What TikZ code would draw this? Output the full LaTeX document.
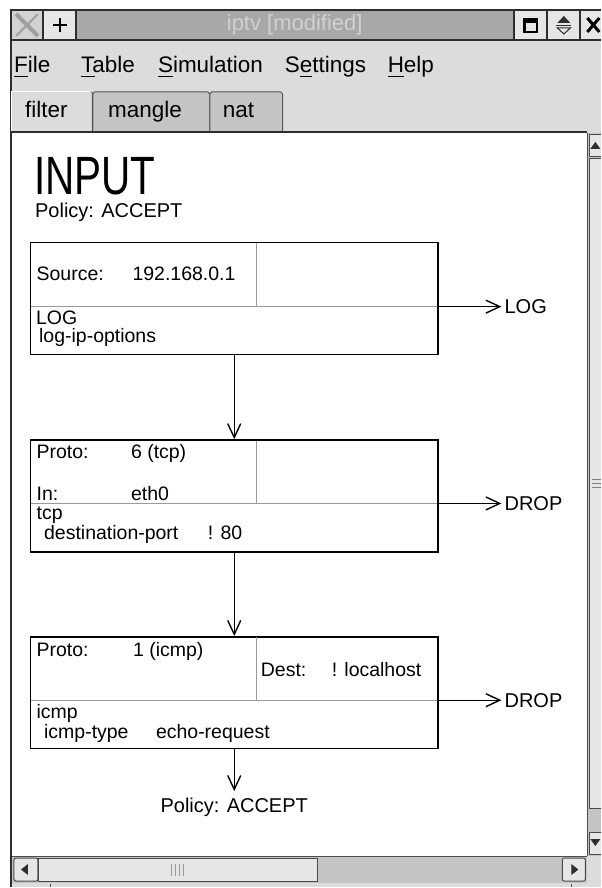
\documentclass[tikz,border=0pt]{standalone}
\usepackage{fontspec}
\setmainfont{Liberation Sans}
\usetikzlibrary{arrows.meta}

\definecolor{winbg}{HTML}{DCDCDC}
\definecolor{titlebg}{HTML}{A8A8A8}
\definecolor{tabbg}{HTML}{C4C4C4}
\definecolor{btnbg}{HTML}{E6E6E6}
\definecolor{frame}{HTML}{2E2E2E}
\definecolor{divgray}{HTML}{9A9A9A}

\newcommand\mnemo[1]{\setbox0\hbox{#1}\rlap{\rule[-4pt]{\wd0}{1.4pt}}#1}

\begin{document}
\begin{tikzpicture}[x=1pt, y=-1pt,
    rulebox/.style={draw=black, line width=1.5pt, fill=white, minimum width=408pt, minimum height=112pt, inner sep=0pt},
    divider/.style={draw=divgray, line width=1pt},
    celltext/.style={anchor=base west, inner sep=0pt, font=\fontsize{19.5}{22}\selectfont},
    verdict/.style={anchor=west, inner sep=3pt, font=\fontsize{20}{22}\selectfont},
    flow/.style={line width=1.4pt, -{Straight Barb[length=14pt, width=13pt]}},
    menuitem/.style={anchor=base west, inner sep=0pt, font=\fontsize{22.5}{24}\selectfont},
    winbtn/.style={fill=btnbg},
  ]
    % фон и рамка окна
    \fill [white] ( 0, 0 ) rectangle ( 602, 888 );
    \fill [winbg] ( 10, 9 ) rectangle ( 602, 888 );
    \fill [frame] ( 10, 9 ) rectangle ( 602, 41 );
    \draw [frame, line width=2pt] ( 11, 888 ) -- ( 11, 9 );

    % заголовок
    \fill [gray!35] ( 12, 11 ) rectangle ( 42, 39 );
    \draw [gray!75, line width=4pt] ( 16, 14 ) -- ( 38, 36 );
    \draw [gray!75, line width=2pt] ( 38, 14 ) -- ( 16, 36 );
    \fill [winbtn] ( 44, 11 ) rectangle ( 75, 39 );
    \draw [line width=2.5pt] ( 53, 25 ) -- ( 67, 25 ) ( 60, 18 ) -- ( 60, 32 );
    \fill [titlebg] ( 77, 11 ) rectangle ( 514, 39 );
    \node [anchor=base, inner sep=0pt, font=\fontsize{22}{24}\selectfont, text=white!82!black] (title) at ( 295, 31 ) {iptv [modified]};
    \fill [winbtn] ( 516, 11 ) rectangle ( 547, 39 );
    \draw [line width=2.2pt] ( 525, 19 ) rectangle ( 538, 32 );
    \fill ( 524, 18 ) rectangle ( 539, 23 );
    \fill [winbtn] ( 549, 11 ) rectangle ( 580, 39 );
    \fill [frame] ( 558, 23 ) -- ( 564.5, 16 ) -- ( 571, 23 ) -- cycle;
    \draw [frame, line width=1pt] ( 557, 25.5 ) -- ( 572, 25.5 );
    \draw [frame, line width=1pt] ( 558, 28 ) -- ( 564.5, 34 ) -- ( 571, 28 ) -- cycle;
    \fill [winbtn] ( 582, 11 ) rectangle ( 602, 39 );
    \draw [line width=3pt] ( 588, 18 ) -- ( 600, 32 ) ( 600, 18 ) -- ( 588, 32 );

    % меню
    \fill [winbg] ( 12, 41 ) rectangle ( 602, 88 );
    \node [menuitem] (mfile) at ( 14, 73 ) {\mnemo{F}ile};
    \node [menuitem] (mtable) at ( 81, 73 ) {\mnemo{T}able};
    \node [menuitem] (msim) at ( 158, 73 ) {\mnemo{S}imulation};
    \node [menuitem] (mset) at ( 285, 73 ) {S\mnemo{e}ttings};
    \node [menuitem] (mhelp) at ( 388, 73 ) {\mnemo{H}elp};

    % вкладки
    \filldraw [fill=tabbg, draw=gray!70!black, line width=1pt] ( 93, 131 ) -- ( 93, 94 ) -- ( 95, 92 ) -- ( 208, 92 ) -- ( 210, 94 ) -- ( 210, 131 );
    \filldraw [fill=tabbg, draw=gray!70!black, line width=1pt] ( 210, 131 ) -- ( 210, 94 ) -- ( 212, 92 ) -- ( 281, 92 ) -- ( 283, 94 ) -- ( 283, 131 );
    \fill [winbg] ( 12, 91 ) rectangle ( 92, 132 );
    \draw [white, line width=1pt] ( 12, 131 ) -- ( 12, 92 ) -- ( 90, 92 );
    \draw [gray!70!black, line width=1pt] ( 91.5, 92 ) -- ( 92.5, 93 ) -- ( 92.5, 131 );
    \node [menuitem] (tfilter) at ( 25, 118 ) {filter};
    \node [menuitem] (tmangle) at ( 108, 118 ) {mangle};
    \node [menuitem] (tnat) at ( 223, 118 ) {nat};

    % рабочая область
    \fill [white] ( 12, 132 ) rectangle ( 588, 857 );
    \draw [frame, line width=2pt] ( 11, 132 ) -- ( 588, 132 );

    % вертикальная полоса прокрутки
    \fill [tabbg] ( 588, 133 ) rectangle ( 602, 857 );
    \draw [gray!60!black, line width=1pt] ( 588, 133 ) -- ( 588, 857 );
    \filldraw [fill=btnbg, draw=gray!60!black, line width=1pt] ( 602, 135 ) -- ( 590, 135 ) -- ( 590, 157 ) -- ( 602, 157 );
    \fill [frame] ( 591, 149 ) -- ( 596, 142 ) -- ( 601, 149 ) -- cycle;
    \filldraw [fill=btnbg, draw=gray!60!black, line width=1pt] ( 602, 159 ) -- ( 590, 159 ) -- ( 590, 809 ) -- ( 602, 809 );
    \foreach \gy in { 480, 484, 488 }
        \draw [gray, line width=0.8pt] ( 593, \gy ) -- ( 602, \gy );
    \filldraw [fill=btnbg, draw=gray!60!black, line width=1pt] ( 602, 833 ) -- ( 590, 833 ) -- ( 590, 855 ) -- ( 602, 855 );
    \fill [frame] ( 591, 840 ) -- ( 596, 847 ) -- ( 601, 840 ) -- cycle;

    % горизонтальная полоса прокрутки
    \fill [tabbg] ( 12, 857 ) rectangle ( 588, 884 );
    \draw [gray!60!black, line width=1pt] ( 12, 857 ) -- ( 588, 857 );
    \filldraw [fill=btnbg, draw=gray!60!black, line width=1pt, rounded corners=2pt] ( 14, 859 ) rectangle ( 38, 882 );
    \fill [frame] ( 21, 870.5 ) -- ( 28, 865 ) -- ( 28, 876 ) -- cycle;
    \filldraw [fill=btnbg, draw=gray!60!black, line width=1pt] ( 39, 859 ) rectangle ( 318, 882 );
    \foreach \gx in { 172, 176, 180, 184 }
        \draw [gray!80, line width=0.8pt] ( \gx, 865 ) -- ( \gx, 877 );
    \filldraw [fill=btnbg, draw=gray!60!black, line width=1pt, rounded corners=2pt] ( 563, 859 ) rectangle ( 586, 882 );
    \fill [frame] ( 579, 870.5 ) -- ( 572, 865 ) -- ( 572, 876 ) -- cycle;
    \fill [winbg] ( 12, 884 ) rectangle ( 602, 888 );
    \draw [gray!70!black, line width=0.8pt] ( 50, 885 ) -- ( 50, 888 ) ( 572, 885 ) -- ( 572, 888 );

    % цепочка
    \node [anchor=base west, inner sep=0pt, font=\fontsize{54}{56}\selectfont] (chain) at ( 34, 195 ) {\scalebox{0.75}[1]{INPUT}};
    \node [anchor=base west, inner sep=0pt, font=\fontsize{20}{22}\selectfont] (policy) at ( 35, 218 ) {Policy: ACCEPT};

    % правила
    \node [rulebox] (rule1) at ( 234.5, 299 ) {};
    \node [rulebox] (rule2) at ( 234.5, 496.5 ) {};
    \node [rulebox] (rule3) at ( 234.5, 693.5 ) {};

    \draw [divider] ( 31.5, 307 ) -- ( 437.5, 307 );
    \draw [divider] ( 257, 243.5 ) -- ( 257, 307 );
    \draw [divider] ( 31.5, 504 ) -- ( 437.5, 504 );
    \draw [divider] ( 257, 441 ) -- ( 257, 504 );
    \draw [divider] ( 31.5, 701 ) -- ( 437.5, 701 );
    \draw [divider] ( 257, 638 ) -- ( 257, 701 );

    % правило 1
    \node [celltext] (src1) at ( 36.5, 281 ) {Source:};
    \node [celltext] (srcv1) at ( 132.5, 281 ) {192.168.0.1};
    \node [celltext] (mod1) at ( 36, 325 ) {LOG};
    \node [celltext] (opt1) at ( 39, 343 ) {log-ip-options};

    % правило 2
    \node [celltext] (proto2) at ( 36.5, 459 ) {Proto:};
    \node [celltext] (protov2) at ( 131, 459 ) {6 (tcp)};
    \node [celltext] (in2) at ( 36.5, 501 ) {In:};
    \node [celltext] (inv2) at ( 131, 501 ) {eth0};
    \node [celltext] (mod2) at ( 36.5, 520 ) {tcp};
    \node [celltext] (opt2) at ( 44, 540 ) {destination-port};
    \node [celltext] (optv2) at ( 208, 540 ) {! 80};

    % правило 3
    \node [celltext] (proto3) at ( 36.5, 657 ) {Proto:};
    \node [celltext] (protov3) at ( 133, 657 ) {1 (icmp)};
    \node [celltext] (dst3) at ( 261, 677 ) {Dest:};
    \node [celltext] (dstv3) at ( 332, 677 ) {! localhost};
    \node [celltext] (mod3) at ( 36.5, 719 ) {icmp};
    \node [celltext] (opt3) at ( 44, 739 ) {icmp-type};
    \node [celltext] (optv3) at ( 156, 739 ) {echo-request};

    % переходы
    \coordinate (out1) at ( 438.5, 307 );
    \coordinate (out2) at ( 438.5, 504 );
    \coordinate (out3) at ( 438.5, 701 );
    \node [verdict] (jump1) at ( 502, 307 ) {LOG};
    \node [verdict] (jump2) at ( 502, 504 ) {DROP};
    \node [verdict] (jump3) at ( 502, 701 ) {DROP};
    \draw [flow] (out1) -- (jump1);
    \draw [flow] (out2) -- (jump2);
    \draw [flow] (out3) -- (jump3);

    \node [anchor=north, inner xsep=0pt, inner ysep=7pt, font=\fontsize{20}{22}\selectfont] (fin) at ( 234.5, 792 ) {Policy: ACCEPT};
    \draw [flow] (rule1) -- (rule2);
    \draw [flow] (rule2) -- (rule3);
    \draw [flow] (rule3) -- (fin);
\end{tikzpicture}
\end{document}
